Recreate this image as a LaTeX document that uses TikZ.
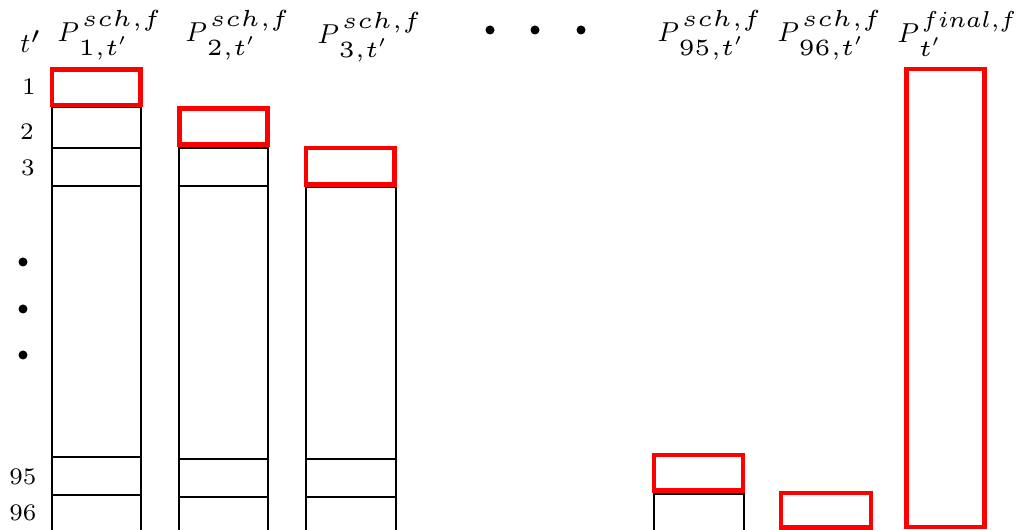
\documentclass[tikz,border=0pt]{standalone}
% wide low-design-size faces for the script parts of the labels
\font\hdrmi=cmmi5 at 9.3pt
\font\hdrmib=cmmi6 at 9.2pt
\font\hdrrm=cmr5 at 9.3pt
\font\hdrsy=cmsy5 at 9.3pt
\font\hdrssmi=cmmi5 at 6.8pt
\font\hdrssrm=cmr5 at 6.8pt
\font\hdrssy=cmsy5 at 6.4pt
\font\rowrm=cmr7 at 9.5pt
\newcommand{\widemath}{\scriptfont0=\hdrrm \scriptfont1=\hdrmi \scriptfont2=\hdrsy
  \scriptscriptfont0=\hdrssrm \scriptscriptfont1=\hdrssmi \scriptscriptfont2=\hdrssy}
% P with a raised upper index and a lowered lower index
\newcommand{\Pidx}[3][\hdrmi]{$\widemath P\kern1.2pt\makebox[0pt][l]{\raisebox{6pt}{$\widemath\scriptfont1=#1\scriptstyle #2$}}\kern-1.2pt\raisebox{-5.3pt}{$\widemath\scriptstyle #3$}$}
\tikzset{
  cell/.style={draw=black, line width=0.8pt},
  hot/.style={draw=red, line width=1.8pt},
  lbl/.style={inner sep=0pt, font=\rowrm},
  hdr/.style={inner sep=0pt, anchor=base west, font=\fontsize{11}{13}\selectfont},
  dot/.style={fill=black, circle, inner sep=0pt, minimum size=3.6pt}
}
\begin{document}
\begin{tikzpicture}[x=0.4pt, y=-0.4pt]
\clip (0,0) rectangle (1027,530);
% column 1
\draw[cell] (51.5,107) rectangle (141,560);
\draw[cell] (51.5,148) -- (141,148);
\draw[cell] (51.5,186) -- (141,186);
\draw[cell] (51.5,457.5) -- (141,457.5);
\draw[cell] (51.5,495.5) -- (141,495.5);
\draw[hot] (52,69.5) rectangle (140.5,105);
% column 2
\draw[cell] (178.5,148) rectangle (268,560);
\draw[cell] (178.5,186) -- (268,186);
\draw[cell] (178.5,459) -- (268,459);
\draw[cell] (178.5,497) -- (268,497);
\draw[hot] (179.5,108.5) rectangle (267.5,144.5);
% column 3
\draw[cell] (305.5,187) rectangle (395.5,560);
\draw[cell] (305.5,459.5) -- (395.5,459.5);
\draw[cell] (305.5,497.5) -- (395.5,497.5);
\draw[hot] (306,148) rectangle (394.5,184.5);
% column 95
\draw[cell] (654,494) rectangle (743.5,560);
\draw[hot] (654,455) rectangle (743,490.5);
% column 96
\draw[hot] (781,493) rectangle (871,527.5);
% final column
\draw[hot] (906.5,69) rectangle (984.5,527);

% column headings
\node[hdr] (h1) at (57,42) {\Pidx{sch,f}{1,t'}};
\node[hdr] (h2) at (185,42) {\Pidx{sch,f}{2,t'}};
\node[hdr] (h3) at (317,44) {\Pidx{sch,f}{3,t'}};
\node[hdr] (h95) at (657,42) {\Pidx{sch,f}{95,t'}};
\node[hdr] (h96) at (777,42) {\Pidx{sch,f}{96,t'}};
\node[hdr] (hf) at (897,43) {\Pidx[\hdrmib]{final,f}{t'}};
\node[dot] (d1) at (490,30) {};
\node[dot] (d2) at (535,30) {};
\node[dot] (d3) at (581,30) {};

% row labels
\node[hdr, anchor=base] (rt) at (31,53) {$\widemath t'$};
\node[lbl] (r1) at (29,87) {1};
\node[lbl] (r2) at (27,132) {2};
\node[lbl] (r3) at (28,168) {3};
\node[dot] (v1) at (23,262) {};
\node[dot] (v2) at (23,309) {};
\node[dot] (v3) at (23,355) {};
\node[lbl] (r95) at (23,477) {95};
\node[lbl] (r96) at (23,513) {96};
\end{tikzpicture}
\end{document}
